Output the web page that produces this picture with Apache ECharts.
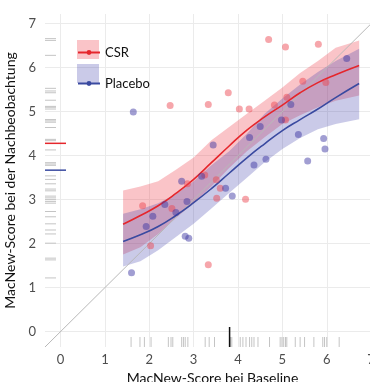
<!DOCTYPE html>
<html>
<head>
<meta charset="utf-8">
<script src="https://cdn.jsdelivr.net/npm/echarts/dist/echarts.min.js"></script>
<style>
  html, body { margin: 0; padding: 0; background: #fff; }
  #chart { width: 370px; height: 382px; }
</style>
</head>
<body>
<div id="chart"></div>
<script>
// fitted curves with confidence bands
const fitX = [1.41, 1.8, 2.2, 2.6, 3.0, 3.4, 3.8, 4.2, 4.6, 5.0, 5.4, 5.8, 6.2, 6.73];
const csrFit = [2.44, 2.64, 2.86, 3.14, 3.46, 3.84, 4.22, 4.58, 4.88, 5.15, 5.43, 5.66, 5.84, 6.05];
const csrUpper = [3.21, 3.30, 3.42, 3.68, 3.96, 4.35, 4.65, 4.95, 5.25, 5.55, 5.88, 6.15, 6.45, 6.62];
const csrLower = [1.75, 1.92, 2.22, 2.58, 2.92, 3.30, 3.72, 4.10, 4.42, 4.72, 4.92, 5.10, 5.25, 5.37];
const placeboFit = [2.05, 2.20, 2.39, 2.64, 2.93, 3.25, 3.60, 3.95, 4.27, 4.57, 4.82, 5.06, 5.32, 5.64];
const placeboUpper = [2.68, 2.78, 2.92, 3.12, 3.42, 3.78, 4.10, 4.50, 4.95, 5.30, 5.62, 5.90, 6.15, 6.43];
const placeboLower = [1.48, 1.60, 1.85, 2.15, 2.45, 2.80, 3.15, 3.50, 3.85, 4.15, 4.40, 4.60, 4.72, 4.83];

// patients: baseline / follow-up
const csrBaseline = [4.69, 5.07, 5.81, 2.47, 3.33, 3.78, 4.03, 4.25, 4.82, 5.10, 5.46, 5.98, 5.07, 1.85, 2.03, 2.51, 2.86, 3.25, 3.51, 3.60, 3.52, 3.33, 4.17];
const csrFollowup = [6.64, 6.47, 6.53, 5.14, 5.16, 5.43, 5.06, 5.06, 5.15, 5.33, 5.69, 5.66, 4.81, 2.86, 1.95, 2.80, 3.36, 3.56, 3.45, 3.26, 3.03, 1.52, 3.01];
const placeboBaseline = [1.64, 6.45, 5.19, 4.50, 4.98, 4.26, 5.36, 5.93, 5.96, 5.57, 4.63, 4.36, 3.87, 3.44, 3.18, 2.73, 3.72, 2.85, 2.35, 2.60, 2.08, 1.93, 2.81, 2.89, 1.60];
const placeboFollowup = [4.99, 6.21, 5.16, 4.66, 4.81, 4.41, 4.48, 4.39, 4.15, 3.88, 3.92, 3.79, 3.08, 4.24, 3.53, 3.42, 3.26, 2.96, 2.89, 2.71, 2.62, 2.39, 2.17, 2.12, 1.34];

// rugs and means
const baselineRug = [1.59, 1.79, 1.89, 2.04, 2.43, 2.49, 2.53, 2.73, 2.77, 2.81, 2.87, 3.26, 3.35, 3.47, 3.83, 3.86, 4.05, 4.11, 4.18, 4.26, 4.31, 4.36, 4.45, 4.71, 4.95, 4.99, 5.03, 5.07, 5.10, 5.29, 5.40, 5.50, 5.71, 5.91, 5.95, 6.00, 6.28];
const followupRug = [6.66, 6.62, 6.28, 5.53, 5.47, 5.43, 5.26, 5.12, 5.10, 5.06, 4.82, 4.79, 4.76, 4.64, 4.37, 4.34, 4.13, 3.84, 3.81, 3.78, 3.54, 3.46, 3.36, 3.24, 3.20, 3.08, 3.04, 3.00, 2.96, 2.92, 2.73, 2.61, 2.45, 2.31, 2.22, 2.01, 1.67, 1.63, 1.22];
const baselineMean = 3.81;
const followupMeanCsr = 4.28;
const followupMeanPlacebo = 3.67;
const identityLine = [-0.35, 7.4];

const xMin = -0.35, xMax = 7.2, yMin = -0.35, yMax = 7.22;
const red = '#e5262c', blue = '#3a4aa0';

let chart = echarts.init(document.getElementById('chart'));

function band(name, lower, upper, color) {
    return {
        name: name, type: 'custom', silent: true, z: 1,
        itemStyle: { color: color },
        data: [[fitX[0], lower[0]]],
        renderItem: function (params, api) {
            let pts = [];
            for (let i = 0; i < fitX.length; i++) pts.push(api.coord([fitX[i], upper[i]]));
            for (let i = fitX.length - 1; i >= 0; i--) pts.push(api.coord([fitX[i], lower[i]]));
            return { type: 'polygon', shape: { points: pts }, style: { fill: color } };
        }
    };
}

function rug(values, horizontal, len, color, width) {
    return {
        type: 'custom', silent: true, z: 2,
        data: values.map(v => horizontal ? [xMin, v] : [v, yMin]),
        renderItem: function (params, api) {
            let p = api.coord([api.value(0), api.value(1)]);
            let shape = horizontal
                ? { x1: p[0], y1: p[1], x2: p[0] + len, y2: p[1] }
                : { x1: p[0], y1: p[1], x2: p[0], y2: p[1] - len };
            return { type: 'line', shape: shape, style: { stroke: color, lineWidth: width } };
        }
    };
}

function fitLine(name, fit, color) {
    return {
        name: name, type: 'line', smooth: true, showSymbol: false, symbol: 'circle', z: 4,
        color: color, lineStyle: { color: color, width: 1.6 },
        data: fitX.map((x, i) => [x, fit[i]])
    };
}

function points(name, xs, ys, color) {
    return {
        name: name, type: 'scatter', symbolSize: 7, z: 5,
        itemStyle: { color: color },
        data: xs.map((x, i) => [x, ys[i]])
    };
}

let axisCommon = {
    type: 'value',
    splitNumber: 8, minInterval: 1, maxInterval: 1,
    axisLine: { show: false },
    axisTick: { show: false },
    splitLine: { showMinLine: false, showMaxLine: false, lineStyle: { color: '#ebebeb', width: 1 } },
    axisLabel: { color: '#4d4d4d', fontSize: 13, fontFamily: 'Lato', showMinLabel: false, showMaxLabel: false },
    nameLocation: 'middle',
    nameTextStyle: { color: '#111', fontSize: 14, fontFamily: 'Lato' }
};

let options = {
    animation: false,
    grid: { left: 45, right: -10, top: 14, bottom: 35, outerBoundsMode: 'none', containLabel: false },
    legend: [
        {
            data: ['CSR-KI', 'Placebo-KI'], orient: 'vertical', left: 72, top: 35,
            icon: 'rect', itemWidth: 22, itemHeight: 19, itemGap: 5,
            formatter: function () { return ''; }, selectedMode: false
        },
        {
            data: ['CSR', 'Placebo'], orient: 'vertical', left: 72, top: 41, z: 6,
            itemWidth: 22, itemHeight: 6, itemGap: 18, selectedMode: false,
            textStyle: { color: '#111', fontSize: 13, fontFamily: 'Lato' }
        }
    ],
    xAxis: Object.assign({}, axisCommon, {
        min: xMin, max: xMax, name: 'MacNew-Score bei Baseline', nameGap: 24,
        axisLabel: Object.assign({}, axisCommon.axisLabel, { margin: 6 })
    }),
    yAxis: Object.assign({}, axisCommon, {
        min: yMin, max: yMax, name: 'MacNew-Score bei der Nachbeobachtung', nameGap: 18,
        axisLabel: Object.assign({}, axisCommon.axisLabel, { margin: 9 })
    }),
    series: [
        band('CSR-KI', csrLower, csrUpper, 'rgba(238, 60, 72, 0.3)'),
        band('Placebo-KI', placeboLower, placeboUpper, 'rgba(60, 60, 170, 0.27)'),
        {
            type: 'line', silent: true, showSymbol: false, z: 3,
            lineStyle: { color: '#b8b8b8', width: 1 },
            data: identityLine.map(v => [v, v])
        },
        rug(baselineRug, false, 10, '#c4c4c4', 1),
        rug(followupRug, true, 11, '#c4c4c4', 1),
        rug([baselineMean], false, 20, '#111', 1.5),
        rug([followupMeanCsr], true, 21, red, 1.5),
        rug([followupMeanPlacebo], true, 21, blue, 1.5),
        fitLine('CSR', csrFit, red),
        fitLine('Placebo', placeboFit, blue),
        points('CSR Patienten', csrBaseline, csrFollowup, 'rgba(236, 70, 80, 0.6)'),
        points('Placebo Patienten', placeboBaseline, placeboFollowup, 'rgba(58, 52, 160, 0.6)')
    ]
};

chart.setOption(options);
</script>
</body>
</html>
